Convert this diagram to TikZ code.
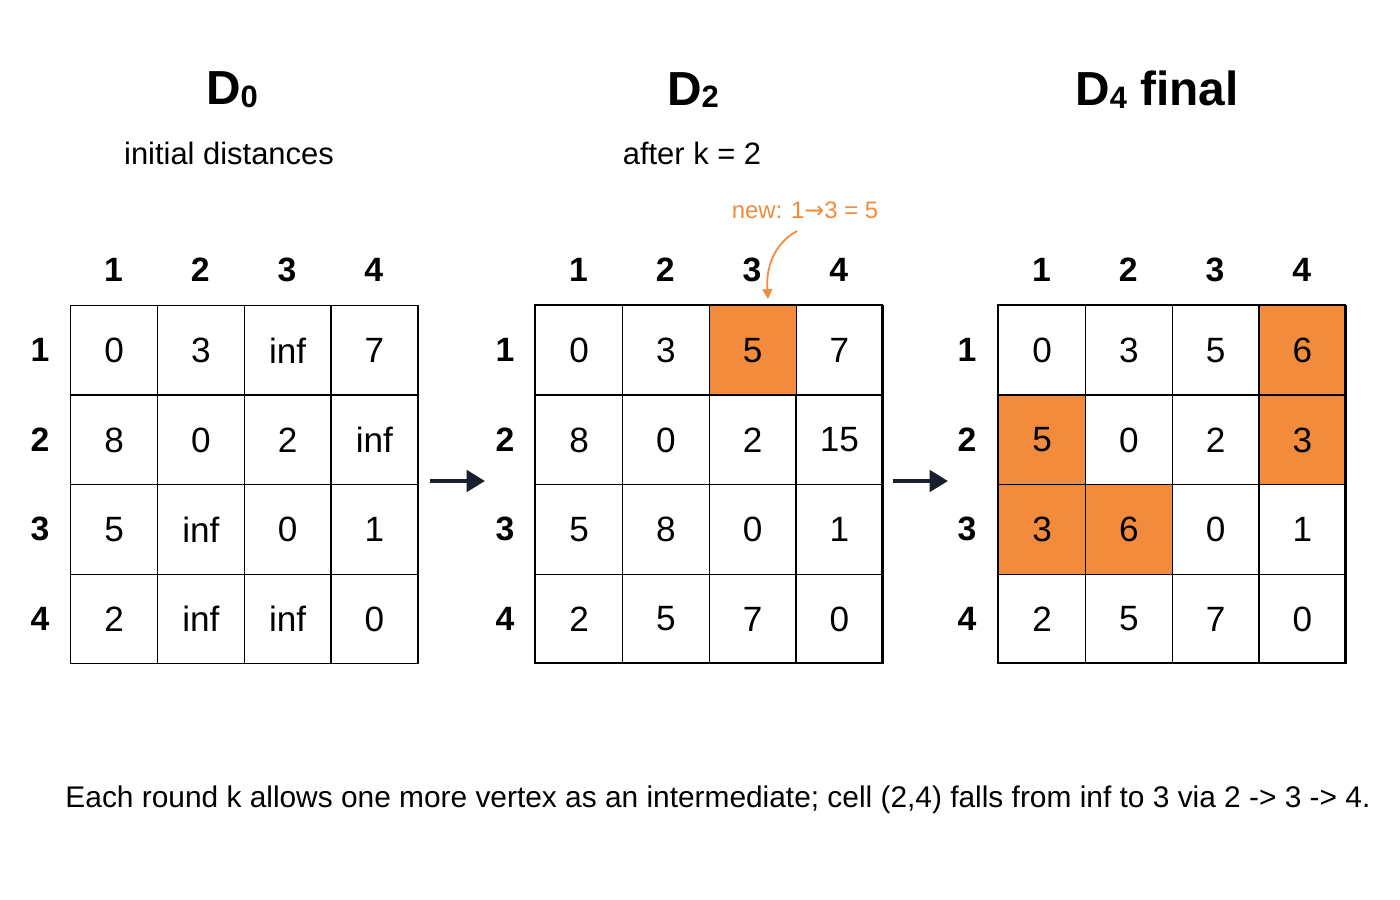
\documentclass[tikz,border=0pt]{standalone}
\usetikzlibrary{arrows.meta}
\usepackage{fontspec}
\setmainfont{Liberation Sans}
\newfontfamily\djv{DejaVu Sans}
\definecolor{hl}{HTML}{F28C3C}
\definecolor{ink}{HTML}{1A1F2E}
\begin{document}
\begin{tikzpicture}[x=0.05cm,y=-0.05cm,
  cell/.style={draw=black,line width=2pt,minimum width=87*1.4226pt,minimum height=89.5*1.4226pt,anchor=north west,inner sep=0pt,font=\fontsize{50}{56}\selectfont},
  hot/.style={cell,fill=hl},
  lab/.style={font=\fontsize{48}{54}\selectfont\bfseries},
  ttl/.style={font=\fontsize{68}{74}\selectfont\bfseries},
  sub/.style={font=\fontsize{44}{48}\selectfont},
  arr/.style={-{Triangle[length=26pt,width=30pt]},line width=6pt,draw=ink}]
\useasboundingbox (0,0) rectangle (1400,900);
% titles
\node[ttl] (t0) at (232,90) {D{\fontsize{44}{48}\selectfont\raisebox{-4pt}{0}}};
\node[sub] (s0) at (229,153) {initial distances};
\node[ttl] (t2) at (693,90) {D{\fontsize{44}{48}\selectfont\raisebox{-4pt}{2}}};
\node[sub] (s2) at (692,153) {after k = 2};
\node[ttl] (t4) at (1157,90) {D{\fontsize{44}{48}\selectfont\raisebox{-4pt}{4}} final};
% grids
\foreach \gx/\lx/\name in {70/40/a,535/505/b,998/967/c}{
  \foreach \j in {1,...,4}{
    \node[lab] (\name h\j) at ({\gx+43.5+86.75*(\j-1)},270) {\j};
    \node[lab] (\name r\j) at (\lx,{350+89.5*(\j-1)}) {\j};
  }
}
% grid A
\foreach \r/\row in {1/{0,3,inf,7},2/{8,0,2,inf},3/{5,inf,0,1},4/{2,inf,inf,0}}{
  \foreach \v [count=\c] in \row {
    \node[cell] (a\r\c) at ({70+86.75*(\c-1)},{305+89.5*(\r-1)}) {\v};
  }
}
% grid B
\foreach \r/\row in {1/{0,3,5,7},2/{8,0,2,15},3/{5,8,0,1},4/{2,5,7,0}}{
  \foreach \v [count=\c] in \row {
    \node[cell] (b\r\c) at ({535+86.75*(\c-1)},{305+89.5*(\r-1)}) {\v};
  }
}
\node[hot] (b13h) at ({535+86.75*2},305) {5};
\draw[line width=2pt] (535,305) rectangle (882,663);
% grid C
\foreach \r/\row in {1/{0,3,5,6},2/{5,0,2,3},3/{3,6,0,1},4/{2,5,7,0}}{
  \foreach \v [count=\c] in \row {
    \node[cell] (c\r\c) at ({998+86.75*(\c-1)},{305+89.5*(\r-1)}) {\v};
  }
}
\node[hot] at ({998+86.75*3},305) {6};
\node[hot] at ({998+86.75*3},394.5) {3};
\node[hot] at (998,394.5) {5};
\node[hot] at (998,484) {3};
\node[hot] at ({998+86.75},484) {6};
\draw[line width=2pt] (998,305) rectangle (1345,663);
% arrows
\coordinate (p1) at (430,481); \coordinate (p2) at (485,481);
\coordinate (q1) at (893,481); \coordinate (q2) at (948,481);
\draw[arr] (p1) -- (p2);
\draw[arr] (q1) -- (q2);
% annotation
\node[font=\fontsize{34}{38}\selectfont,text=hl] (nw) at (805,210) {new: 1{\djv →}3 = 5};
\coordinate (ae) at (768,299);
\draw[hl,line width=2.5pt,-{Triangle[length=14pt,width=14pt]}] (797,231) .. controls (772,245) and (766,270) .. (ae);
% footer
\node[font=\fontsize{42.5}{48}\selectfont] (ft) at (718,800) {Each round k allows one more vertex as an intermediate; cell (2,4) falls from inf to 3 via 2 -> 3 -> 4.};
\end{tikzpicture}
\end{document}
